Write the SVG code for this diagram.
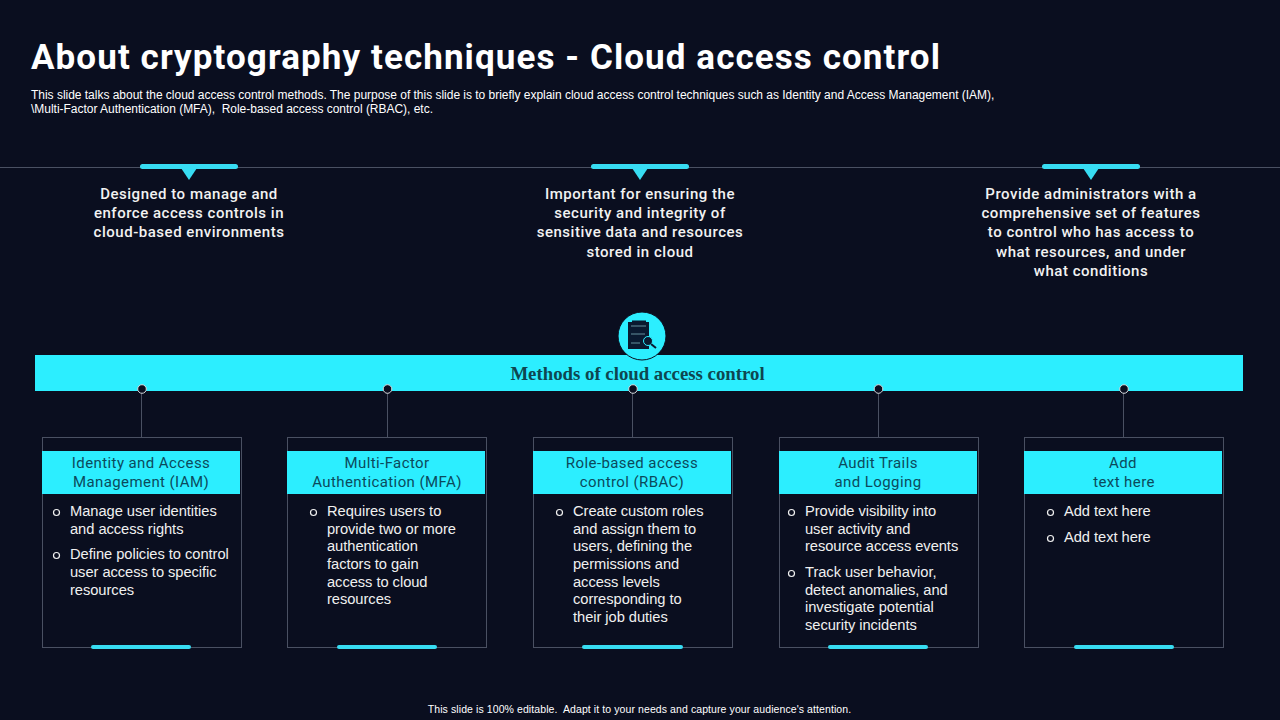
<svg xmlns="http://www.w3.org/2000/svg" width="1280" height="720" viewBox="0 0 1280 720">
<style>
text{font-family:"Liberation Sans",Arial,sans-serif}
.din{font-family:Roboto,"Liberation Sans",sans-serif}
.title{font-size:35px;font-weight:700;fill:#fff;letter-spacing:1.08px}
.sub{font-size:12px;fill:#fff;letter-spacing:-.02px;white-space:pre}
.top{font-size:15px;font-weight:500;fill:#f2f2f2;text-anchor:middle;letter-spacing:.52px}
.hd{font-size:15px;fill:#0b4a5c;text-anchor:middle;letter-spacing:.41px}
.b{font-size:14.7px;fill:#f0f0f0;letter-spacing:-.05px}
.bul{fill:none;stroke:#f0f0f0;stroke-width:1.2}
.card{fill:#0a0e1f;stroke:#4a5062;stroke-width:1}
.band{fill:#2ceeff}
.pill{fill:#37dcf2}
.ln{stroke:#4a5062;stroke-width:1;fill:none}
.dot{fill:#0a0e1f;stroke:#d5d8dc;stroke-width:1}
</style>
<rect width="1280" height="720" fill="#0a0e1f"/>
<text class="din title" x="31" y="69">About cryptography techniques - Cloud access control</text>
<text class="sub" x="31" y="99">This slide talks about the cloud access control methods. The purpose of this slide is to briefly explain cloud access control techniques such as Identity and Access Management (IAM),</text>
<text class="sub" x="31" y="113">\Multi-Factor Authentication (MFA),  Role-based access control (RBAC), etc.</text>
<g id="connectors">
<path class="ln" d="M0 167.500H1280"/>
<path class="ln" d="M141.500 390V437M387.500 390V437M632.500 390V437M878.500 390V437M1123.500 390V437"/>
</g>
<g id="point-1"><rect class="pill" x="140" y="164" width="98" height="5" rx="2.500"/><path class="pill" d="M181 168H197L189 180Z"/>
<text class="din top" x="189" y="199">Designed to manage and</text><text class="din top" x="189" y="218">enforce access controls in</text><text class="din top" x="189" y="237">cloud-based environments</text></g>
<g id="point-2"><rect class="pill" x="591" y="164" width="98" height="5" rx="2.500"/><path class="pill" d="M632 168H648L640 180Z"/>
<text class="din top" x="640" y="199">Important for ensuring the</text><text class="din top" x="640" y="218">security and integrity of</text><text class="din top" x="640" y="237">sensitive data and resources</text><text class="din top" x="640" y="257">stored in cloud</text></g>
<g id="point-3"><rect class="pill" x="1042" y="164" width="98" height="5" rx="2.500"/><path class="pill" d="M1083 168H1099L1091 180Z"/>
<text class="din top" x="1091" y="199">Provide administrators with a</text><text class="din top" x="1091" y="218">comprehensive set of features</text><text class="din top" x="1091" y="237">to control who has access to</text><text class="din top" x="1091" y="257">what resources, and under</text><text class="din top" x="1091" y="276">what conditions</text></g>
<g id="banner"><rect class="band" x="35" y="355" width="1208" height="36"/>
<text x="637.500" y="380" text-anchor="middle" font-size="18.800" font-weight="700" fill="#0e4650" style="font-family:'Liberation Serif',serif">Methods of cloud access control</text></g>
<g id="icon"><circle cx="642" cy="336" r="24" fill="#2ceeff" stroke="#0a0e1f" stroke-width="1"/>
<path d="M628 322H632V320.500H646V322H649V349H628Z" fill="#0a1a30"/>
<path d="M631 326H646M631 334H645M631 343H640" stroke="#9fdfe8" stroke-width=".6"/>
<circle cx="648" cy="341" r="4.500" fill="#0a1a30" stroke="#2ceeff" stroke-width="1"/><path d="M651 344L656 348" stroke="#0a1a30" stroke-width="2"/></g>
<g id="dots"><circle class="dot" cx="142" cy="389" r="4.300"/><circle class="dot" cx="387.500" cy="389" r="4.300"/><circle class="dot" cx="633" cy="389" r="4.300"/><circle class="dot" cx="878.500" cy="389" r="4.300"/><circle class="dot" cx="1124" cy="389" r="4.300"/></g>
<g id="card-iam"><rect class="card" x="42.500" y="437.500" width="199" height="210"/><rect class="band" x="42" y="451" width="198" height="43"/>
<text class="din hd" x="141" y="468">Identity and Access</text><text class="din hd" x="141" y="487">Management (IAM)</text>
<circle class="bul" cx="56.500" cy="512.500" r="3"/><text class="b" x="70" y="516">Manage user identities</text><text class="b" x="70" y="534">and access rights</text>
<circle class="bul" cx="56.500" cy="555.500" r="3"/><text class="b" x="70" y="559">Define policies to control</text><text class="b" x="70" y="577">user access to specific</text><text class="b" x="70" y="595">resources</text>
<rect class="pill" x="91" y="645" width="100" height="4" rx="2"/></g>
<g id="card-mfa"><rect class="card" x="287.500" y="437.500" width="199" height="210"/><rect class="band" x="287" y="451" width="198" height="43"/>
<text class="din hd" x="387" y="468">Multi-Factor</text><text class="din hd" x="387" y="487">Authentication (MFA)</text>
<circle class="bul" cx="313.500" cy="512.500" r="3"/><text class="b" x="327" y="516">Requires users to</text><text class="b" x="327" y="534">provide two or more</text><text class="b" x="327" y="551">authentication</text><text class="b" x="327" y="569">factors to gain</text><text class="b" x="327" y="587">access to cloud</text><text class="b" x="327" y="604">resources</text>
<rect class="pill" x="337" y="645" width="100" height="4" rx="2"/></g>
<g id="card-rbac"><rect class="card" x="533.500" y="437.500" width="199" height="210"/><rect class="band" x="533" y="451" width="198" height="43"/>
<text class="din hd" x="632" y="468">Role-based access</text><text class="din hd" x="632" y="487">control (RBAC)</text>
<circle class="bul" cx="559.500" cy="512.500" r="3"/><text class="b" x="573" y="516">Create custom roles</text><text class="b" x="573" y="534">and assign them to</text><text class="b" x="573" y="551">users, defining the</text><text class="b" x="573" y="569">permissions and</text><text class="b" x="573" y="587">access levels</text><text class="b" x="573" y="604">corresponding to</text><text class="b" x="573" y="622">their job duties</text>
<rect class="pill" x="582" y="645" width="101" height="4" rx="2"/></g>
<g id="card-audit"><rect class="card" x="779.500" y="437.500" width="199" height="210"/><rect class="band" x="779" y="451" width="198" height="43"/>
<text class="din hd" x="878" y="468">Audit Trails</text><text class="din hd" x="878" y="487">and Logging</text>
<circle class="bul" cx="791.500" cy="512.500" r="3"/><text class="b" x="805" y="516">Provide visibility into</text><text class="b" x="805" y="534">user activity and</text><text class="b" x="805" y="551">resource access events</text>
<circle class="bul" cx="791.500" cy="573.500" r="3"/><text class="b" x="805" y="577">Track user behavior,</text><text class="b" x="805" y="595">detect anomalies, and</text><text class="b" x="805" y="612">investigate potential</text><text class="b" x="805" y="630">security incidents</text>
<rect class="pill" x="828" y="645" width="100" height="4" rx="2"/></g>
<g id="card-add"><rect class="card" x="1024.500" y="437.500" width="199" height="210"/><rect class="band" x="1024" y="451" width="198" height="43"/>
<text class="din hd" x="1123" y="468">Add</text><text class="din hd" x="1124" y="487">text here</text>
<circle class="bul" cx="1050.500" cy="512.500" r="3"/><text class="b" x="1064" y="516">Add text here</text>
<circle class="bul" cx="1050.500" cy="538.500" r="3"/><text class="b" x="1064" y="542">Add text here</text>
<rect class="pill" x="1074" y="645" width="100" height="4" rx="2"/></g>
<text x="639.500" y="713" text-anchor="middle" font-size="10.500" fill="#fff" letter-spacing=".09" style="white-space:pre">This slide is 100% editable.  Adapt it to your needs and capture your audience's attention.</text>
</svg>
